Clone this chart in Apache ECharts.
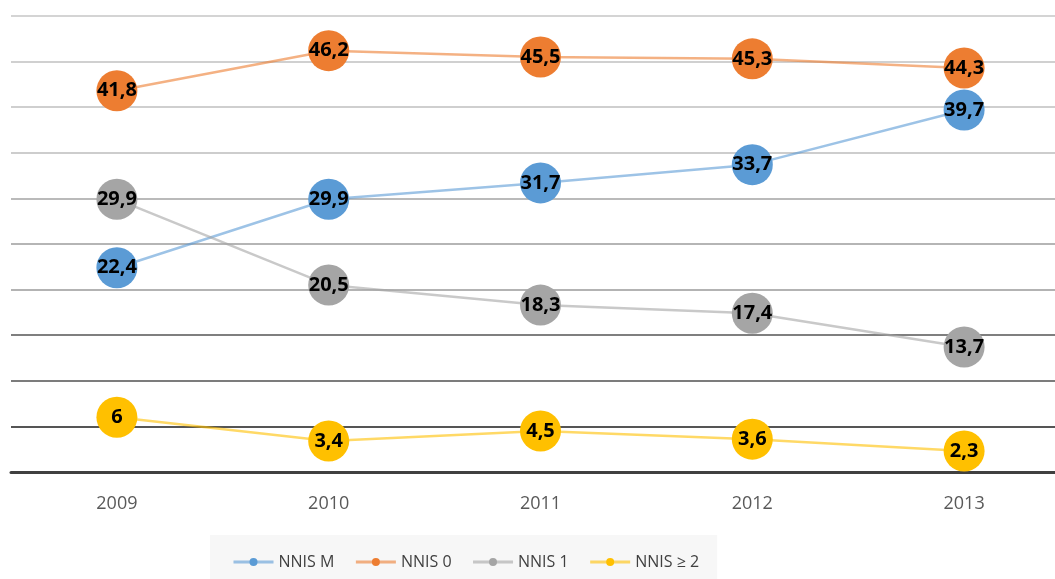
<!DOCTYPE html>
<html>
<head>
<meta charset="utf-8">
<style>
  html, body { margin: 0; padding: 0; background: #ffffff; }
  #chart { width: 1055px; height: 579px; }
</style>
<script src="https://cdn.jsdelivr.net/npm/echarts@6/dist/echarts.min.js"></script>
</head>
<body>
<div id="chart"></div>
<script>
// Years on the horizontal axis
const years = ['2009', '2010', '2011', '2012', '2013'];

// Percentages per NNIS risk index class
const nnisM  = [22.4, 29.9, 31.7, 33.7, 39.7];
const nnis0  = [41.8, 46.2, 45.5, 45.3, 44.3];
const nnis1  = [29.9, 20.5, 18.3, 17.4, 13.7];
const nnis2p = [6, 3.4, 4.5, 3.6, 2.3];

const seriesNames = ['NNIS M', 'NNIS 0', 'NNIS 1', 'NNIS \u2265 2'];
const seriesColors = ['#5b9bd5', '#ed7d31', '#a5a5a5', '#ffc000'];

// Grid line shades, from the 0 line upward
const gridShades = ['#3f3f3f', '#1c1c1c', '#505050', '#545454', '#9a9a9a', '#9c9c9c',
                    '#a3a3a3', '#bcbcbc', '#bfbfbf', '#c0c0c0', '#c6c6c6'];

const fontFamily = '"Open Sans", "Noto Sans", sans-serif';

function makeSeries(name, data, color) {
  return {
    name: name,
    type: 'line',
    data: data,
    symbol: 'circle',
    symbolSize: 41,
    itemStyle: { color: color },
    lineStyle: { color: color, width: 2.5, opacity: 0.6 },
    label: {
      show: true,
      position: 'inside',
      color: '#000000',
      fontFamily: fontFamily,
      fontWeight: 'bold',
      fontSize: 20,
      formatter: p => String(p.value).replace('.', ',')
    },
    emphasis: { disabled: true },
    animation: false
  };
}

const chart = echarts.init(document.getElementById('chart'), null, { renderer: 'canvas' });
chart.setOption({
  backgroundColor: '#ffffff',
  grid: {
    left: 11, top: 16, width: 1059, bottom: 107,
    containLabel: false, outerBoundsMode: 'none'
  },
  xAxis: {
    type: 'category',
    data: years,
    boundaryGap: true,
    axisLine: { show: true, lineStyle: { color: '#404040', width: 3 } },
    axisTick: { show: false },
    axisLabel: { color: '#595959', fontSize: 18, margin: 23, fontFamily: fontFamily }
  },
  yAxis: {
    type: 'value',
    min: 0,
    max: 50,
    interval: 5,
    axisLine: { show: false },
    axisTick: { show: false },
    axisLabel: { show: false },
    splitLine: { show: true, lineStyle: { color: gridShades, width: 1.5 } }
  },
  legend: {
    data: seriesNames,
    orient: 'horizontal',
    left: 210,
    top: 535,
    padding: [19, 18, 16, 22],
    backgroundColor: '#f7f7f7',
    itemWidth: 40,
    itemHeight: 10,
    itemGap: 20,
    lineStyle: { width: 3 },
    textStyle: { color: '#404040', fontSize: 16, fontFamily: fontFamily }
  },
  series: [
    makeSeries(seriesNames[0], nnisM, seriesColors[0]),
    makeSeries(seriesNames[1], nnis0, seriesColors[1]),
    makeSeries(seriesNames[2], nnis1, seriesColors[2]),
    makeSeries(seriesNames[3], nnis2p, seriesColors[3])
  ]
});
</script>
</body>
</html>
